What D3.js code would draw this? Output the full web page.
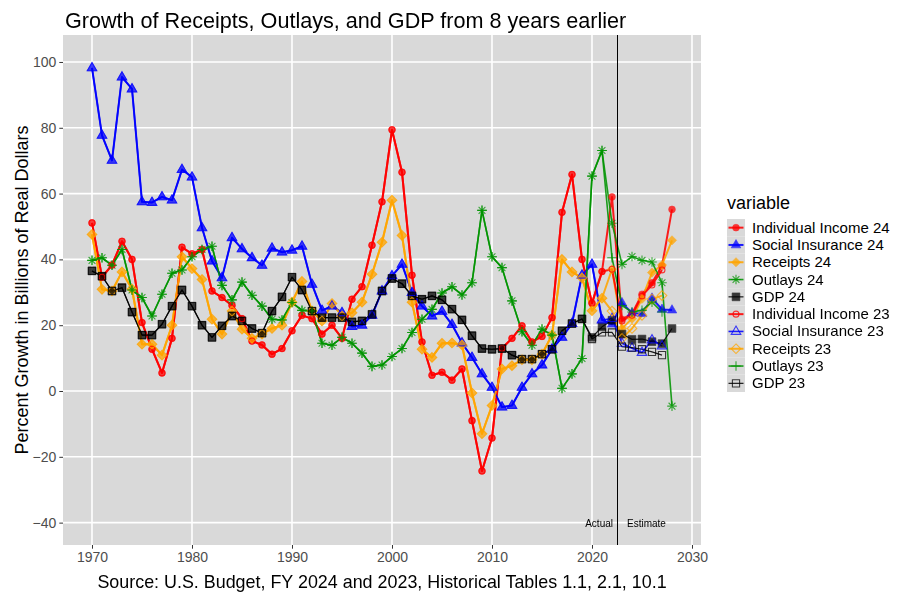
<!DOCTYPE html>
<html><head><meta charset="utf-8">
<script src="https://cdn.jsdelivr.net/npm/d3@7"></script>
<style>body{margin:0;background:#fff}</style>
</head><body><svg id="c" width="900" height="600"></svg>
<script>
// ---------------- DATA ----------------
const years24 = [1970,1971,1972,1973,1974,1975,1976,1977,1978,1979,1980,1981,1982,1983,1984,1985,1986,1987,1988,1989,1990,1991,1992,1993,1994,1995,1996,1997,1998,1999,2000,2001,2002,2003,2004,2005,2006,2007,2008,2009,2010,2011,2012,2013,2014,2015,2016,2017,2018,2019,2020,2021,2022,2023,2024,2025,2026,2027,2028];
const years23 = [1970,1971,1972,1973,1974,1975,1976,1977,1978,1979,1980,1981,1982,1983,1984,1985,1986,1987,1988,1989,1990,1991,1992,1993,1994,1995,1996,1997,1998,1999,2000,2001,2002,2003,2004,2005,2006,2007,2008,2009,2010,2011,2012,2013,2014,2015,2016,2017,2018,2019,2020,2021,2022,2023,2024,2025,2026,2027];

const indIncome24 = [51.1,34.6,38.3,45.5,40,20.8,12.7,5.5,16,43.7, 41.7,43,30.4,28.4,26,22,15.2,14,11.2,12.9, 18.3,23,22,17.3,20,16,27.9,31.7,44.3,57.5, 79.4,66.5,35.2,14.9,4.8,5.7,3.3,6.7,-9,-24.3, -14.3,13,16,19.8,14.9,16.6,22.3,54.3,65.8,40, 26.7,36.3,59,21.8,23.5,29.4,32.9,38,55.2];
const socIns24 = [98.2,77.7,70.1,95.4,91.8,57.5,57.3,59,58,67.3, 65,49.6,39.5,34.4,46.6,43.2,40.5,38.2,43.4,42.2, 42.8,44,32.4,24.5,25.8,23.8,19.6,20,23,30.4, 35,38.5,29.9,25.8,22.8,24.2,20.2,14.6,10.2,5.2, 1.1,-4.9,-4.4,1.1,5.2,7.9,12.7,16.3,20.5,35.2, 38.5,21.6,20.3,26.8,23.7,23.5,28.2,24.8,24.6];
const receipts24 = [47.6,30.9,30.4,36.2,31,14.2,14.2,10.9,20,40.8, 37.2,33.9,21.8,17.3,24.3,18.8,16,17.3,19,20, 27,33.3,24.3,21.3,26.6,22.8,23.8,27,35.5,45.2, 58,47.3,27,12.7,10.2,14.5,14.6,14,-0.6,-13, -4.4,6.7,7.7,9.5,9.5,11.2,17,40,36.2,34.4, 24.4,28.2,37,19,22,28,36,38.3,45.8];
const outlays24 = [39.7,40.5,38.2,43,30.7,28.4,22.8,29.4,35.8,36.8, 40.8,43,44,32.1,27.7,33.1,29.1,25.8,21.8,21.6, 26.9,24.5,24.3,14.5,13.9,16.3,14.5,11.5,7.5,7.9, 10.5,12.9,17.8,21.8,24.8,29.8,31.7,29.2,32.9,54.9, 40.8,37.5,27.4,18,13.9,18.8,17,0.8,5.2,9.9, 65.3,73.1,51,38.5,40.9,39.7,39.2,32.9,-4.6];
const gdp24 = [36.5,34.9,30.4,31.4,24,17,17,20.3,25.8,30.7, 25.8,20,16.3,19.8,22.8,21.3,19,17.6,24.3,28.6, 34.6,30.7,24.3,22.3,22.3,22.3,21,21.3,23.3,30.4, 34.2,32.6,28.9,27.9,28.9,27.7,24.9,21.6,16.8,12.9, 12.7,12.9,10.9,9.7,9.7,11.2,12.7,18.3,20.5,21.9, 16.3,19.5,21.5,17.3,15.7,15.8,15,14.4,19];

const indIncome23 = [51.1,34.6,38.3,45.5,40,20.8,12.7,5.5,16,43.7, 41.7,43,30.4,28.4,26,22,15.2,14,11.2,12.9, 18.3,23,22,17.3,20,16,27.9,31.7,44.3,57.5, 79.4,66.5,35.2,14.9,4.8,5.7,3.3,6.7,-9,-24.3, -14.3,13,16,19.8,14.9,16.6,22.3,54.3,65.8,40, 26.7,36.3,37,21.3,23,28.9,32.2,36.8];
const socIns23 = [98.2,77.7,70.1,95.4,91.8,57.5,57.3,59,58,67.3, 65,49.6,39.5,34.4,46.6,43.2,40.5,38.2,43.4,42.2, 42.8,44,32.4,24.5,25.8,23.8,19.6,20,23,30.4, 35,38.5,29.9,25.8,22.8,24.2,20.2,14.6,10.2,5.2, 1.1,-4.9,-4.4,1.1,5.2,7.9,12.7,16.3,20.5,35.2, 38.5,21.6,22,14.5,13,11.7,15.5,13.7];
const receipts23 = [47.6,30.9,30.4,36.2,31,14.2,14.2,10.9,20,40.8, 37.2,33.9,21.8,17.3,24.3,18.8,16,17.3,19,20, 27,33.3,24.3,21.3,26.6,22.8,23.8,27,35.5,45.2, 58,47.3,27,12.7,10.2,14.5,14.6,14,-0.6,-13, -4.4,6.7,7.7,9.5,9.5,11.2,17,40,36.2,34.4, 24.4,28.2,24.3,16,19,23,28,29];
const outlays23 = [39.7,40.5,38.2,43,30.7,28.4,22.8,29.4,35.8,36.8, 40.8,43,44,32.1,27.7,33.1,29.1,25.8,21.8,21.6, 26.9,24.5,24.3,14.5,13.9,16.3,14.5,11.5,7.5,7.9, 10.5,12.9,17.8,21.8,24.8,29.8,31.7,29.2,32.9,54.9, 40.8,37.5,27.4,18,13.9,18.8,17,0.8,5.2,9.9, 65.3,73.1,40.5,26,24,24.5,27,24];
const gdp23 = [36.5,34.9,30.4,31.4,24,17,17,20.3,25.8,30.7, 25.8,20,16.3,19.8,22.8,21.3,19,17.6,24.3,28.6, 34.6,30.7,24.3,22.3,22.3,22.3,21,21.3,23.3,30.4, 34.2,32.6,28.9,27.9,28.9,27.7,24.9,21.6,16.8,12.9, 12.7,12.9,10.9,9.7,9.7,11.2,12.7,18.3,20.5,21.9, 15.8,17.8,17.8,13.5,13.2,12.7,11.9,10.9];

const seriesNames = ["Individual Income 24","Social Insurance 24","Receipts 24","Outlays 24","GDP 24",
                     "Individual Income 23","Social Insurance 23","Receipts 23","Outlays 23","GDP 23"];
const seriesValues = [indIncome24, socIns24, receipts24, outlays24, gdp24,
                      indIncome23, socIns23, receipts23, outlays23, gdp23];
const seriesYears = [years24, years24, years24, years24, years24, years23, years23, years23, years23, years23];

const xTicks = [1970,1980,1990,2000,2010,2020,2030];
const yTicks = [-40,-20,0,20,40,60,80,100];
const splitYear = 2022.5;
const annotY = -40;

const titleText = "Growth of Receipts, Outlays, and GDP from 8 years earlier";
const xTitle = "Source: U.S. Budget, FY 2024 and 2023, Historical Tables 1.1, 2.1, 10.1";
const yTitle = "Percent Growth in Billions of Real Dollars";
const legendTitle = "variable";

// ---------------- STYLE ----------------
const colors = ["#FF0000","#0000FF","#FFA500","#009400","#000000","#FF0000","#0000FF","#FFA500","#009400","#000000"];
const shapes = ["circleF","triF","diamondF","asterisk","squareF","circleO","triO","diamondO","plus","squareO"];
const lineW  = [2,2,2,1.6,1.2,2,1.6,2,1.6,1.2];

const svg = d3.select("#c");
const font = "'Liberation Sans', Arial, sans-serif";
const P = {l:63, r:701, t:35, b:545};
const x = d3.scaleLinear().domain([1967.1, 2030.9]).range([P.l, P.r]);
const y = d3.scaleLinear().domain([-46.8, 108.2]).range([P.b, P.t]);

// panel
svg.append("rect").attr("x",P.l).attr("y",P.t).attr("width",P.r-P.l).attr("height",P.b-P.t).attr("fill","#D9D9D9");
const grid = svg.append("g");
yTicks.forEach(t => grid.append("line").attr("x1",P.l).attr("x2",P.r).attr("y1",y(t)).attr("y2",y(t)).attr("stroke","#fff").attr("stroke-width",1.6));
xTicks.forEach(t => grid.append("line").attr("y1",P.t).attr("y2",P.b).attr("x1",x(t)).attr("x2",x(t)).attr("stroke","#fff").attr("stroke-width",1.6));

// axes
const xAxis = d3.axisBottom(x).tickValues(xTicks).tickFormat(d3.format("d")).tickSize(3.7).tickPadding(3);
const yAxis = d3.axisLeft(y).tickValues(yTicks).tickSize(3.7).tickPadding(3);
const gx = svg.append("g").attr("transform",`translate(0,${P.b})`).call(xAxis);
const gy = svg.append("g").attr("transform",`translate(${P.l},0)`).call(yAxis);
[gx,gy].forEach(g=>{
  g.select(".domain").remove();
  g.selectAll(".tick line").attr("stroke","#333333");
  g.selectAll(".tick text").attr("fill","#4D4D4D").style("font-family",font).style("font-size","14px");
});

// symbol path generator
function symPath(s){
  switch(s){
    case "circleF": case "circleO": return d3.symbol(d3.symbolCircle, s==="circleF"?36:28)();
    case "triF": case "triO": return "M0,-5.4L4.8,2.9L-4.8,2.9Z";
    case "diamondF": return "M0,-4.6L4.6,0L0,4.6L-4.6,0Z";
    case "diamondO": return "M0,-4.8L4.8,0L0,4.8L-4.8,0Z";
    case "squareF": return "M-3.9,-3.9H3.9V3.9H-3.9Z";
    case "squareO": return "M-3.6,-3.6H3.6V3.6H-3.6Z";
    case "asterisk": return "M-4.8,0H4.8M0,-4.8V4.8M-3.4,-3.4L3.4,3.4M-3.4,3.4L3.4,-3.4";
    case "plus": return "M-4.8,0H4.8M0,-4.8V4.8";
  }
}
function styleSym(sel, s, c){
  const filled = s.endsWith("F");
  if (filled) sel.attr("fill", c).attr("stroke", c).attr("stroke-width", 0.6);
  else sel.attr("fill", "none").attr("stroke", c).attr("stroke-width", 1.1);
}

svg.append("clipPath").attr("id","pc").append("rect").attr("x",P.l).attr("y",P.t).attr("width",P.r-P.l).attr("height",P.b-P.t);
const plot = svg.append("g").attr("clip-path","url(#pc)");

// lines
const line = d3.line().x(d=>x(d[0])).y(d=>y(d[1]));
seriesNames.forEach((n,i)=>{
  const pts = seriesYears[i].map((yr,j)=>[yr, seriesValues[i][j]]);
  plot.append("path").datum(pts).attr("d",line).attr("fill","none")
    .attr("stroke",colors[i]).attr("stroke-width",lineW[i]).attr("stroke-opacity",0.88).attr("stroke-linejoin","round");
});
// points
seriesNames.forEach((n,i)=>{
  const pts = seriesYears[i].map((yr,j)=>[yr, seriesValues[i][j]]);
  const g = plot.append("g").attr("opacity",0.75);
  g.selectAll("path").data(pts).join("path")
    .attr("d", symPath(shapes[i]))
    .attr("transform", d=>`translate(${x(d[0])},${y(d[1])})`)
    .call(sel=>styleSym(sel, shapes[i], colors[i]));
});

// split line and annotations
const sx = Math.round(x(splitYear)) + 0.5;
svg.append("line").attr("x1",sx).attr("x2",sx).attr("y1",P.t).attr("y2",P.b).attr("stroke","#000").attr("stroke-width",1);
svg.append("text").attr("x",x(splitYear)-4).attr("y",y(annotY)+4).attr("text-anchor","end")
  .style("font-family",font).style("font-size","10px").attr("fill","#000").text("Actual");
svg.append("text").attr("x",x(splitYear)+10).attr("y",y(annotY)+4).attr("text-anchor","start")
  .style("font-family",font).style("font-size","10px").attr("fill","#000").text("Estimate");

// titles
svg.append("text").attr("x",65).attr("y",28).style("font-family",font).style("font-size","21.6px").attr("fill","#000").text(titleText);
svg.append("text").attr("x",(P.l+P.r)/2).attr("y",588).attr("text-anchor","middle").style("font-family",font).style("font-size","17.9px").attr("fill","#000").text(xTitle);
svg.append("text").attr("transform",`translate(28,${(P.t+P.b)/2}) rotate(-90)`).attr("text-anchor","middle").style("font-family",font).style("font-size","18px").attr("fill","#000").text(yTitle);

// legend
const L = {x:727, y:219, w:18, h:17.3};
svg.append("text").attr("x",L.x).attr("y",209).style("font-family",font).style("font-size","18px").attr("fill","#000").text(legendTitle);
seriesNames.forEach((n,i)=>{
  const cy = L.y + i*L.h + L.h/2;
  svg.append("rect").attr("x",L.x).attr("y",L.y+i*L.h).attr("width",L.w).attr("height",L.h).attr("fill","#D9D9D9");
  svg.append("line").attr("x1",L.x+1.5).attr("x2",L.x+L.w-1.5).attr("y1",cy).attr("y2",cy).attr("stroke",colors[i]).attr("stroke-width",lineW[i]).attr("stroke-opacity",0.88);
  svg.append("path").attr("d",symPath(shapes[i])).attr("transform",`translate(${L.x+L.w/2},${cy})`).attr("opacity",0.75)
    .call(sel=>styleSym(sel, shapes[i], colors[i]));
  svg.append("text").attr("x",L.x+L.w+7).attr("y",cy+5).style("font-family",font).style("font-size","15px").attr("fill","#000").text(n);
});
</script></body></html>
